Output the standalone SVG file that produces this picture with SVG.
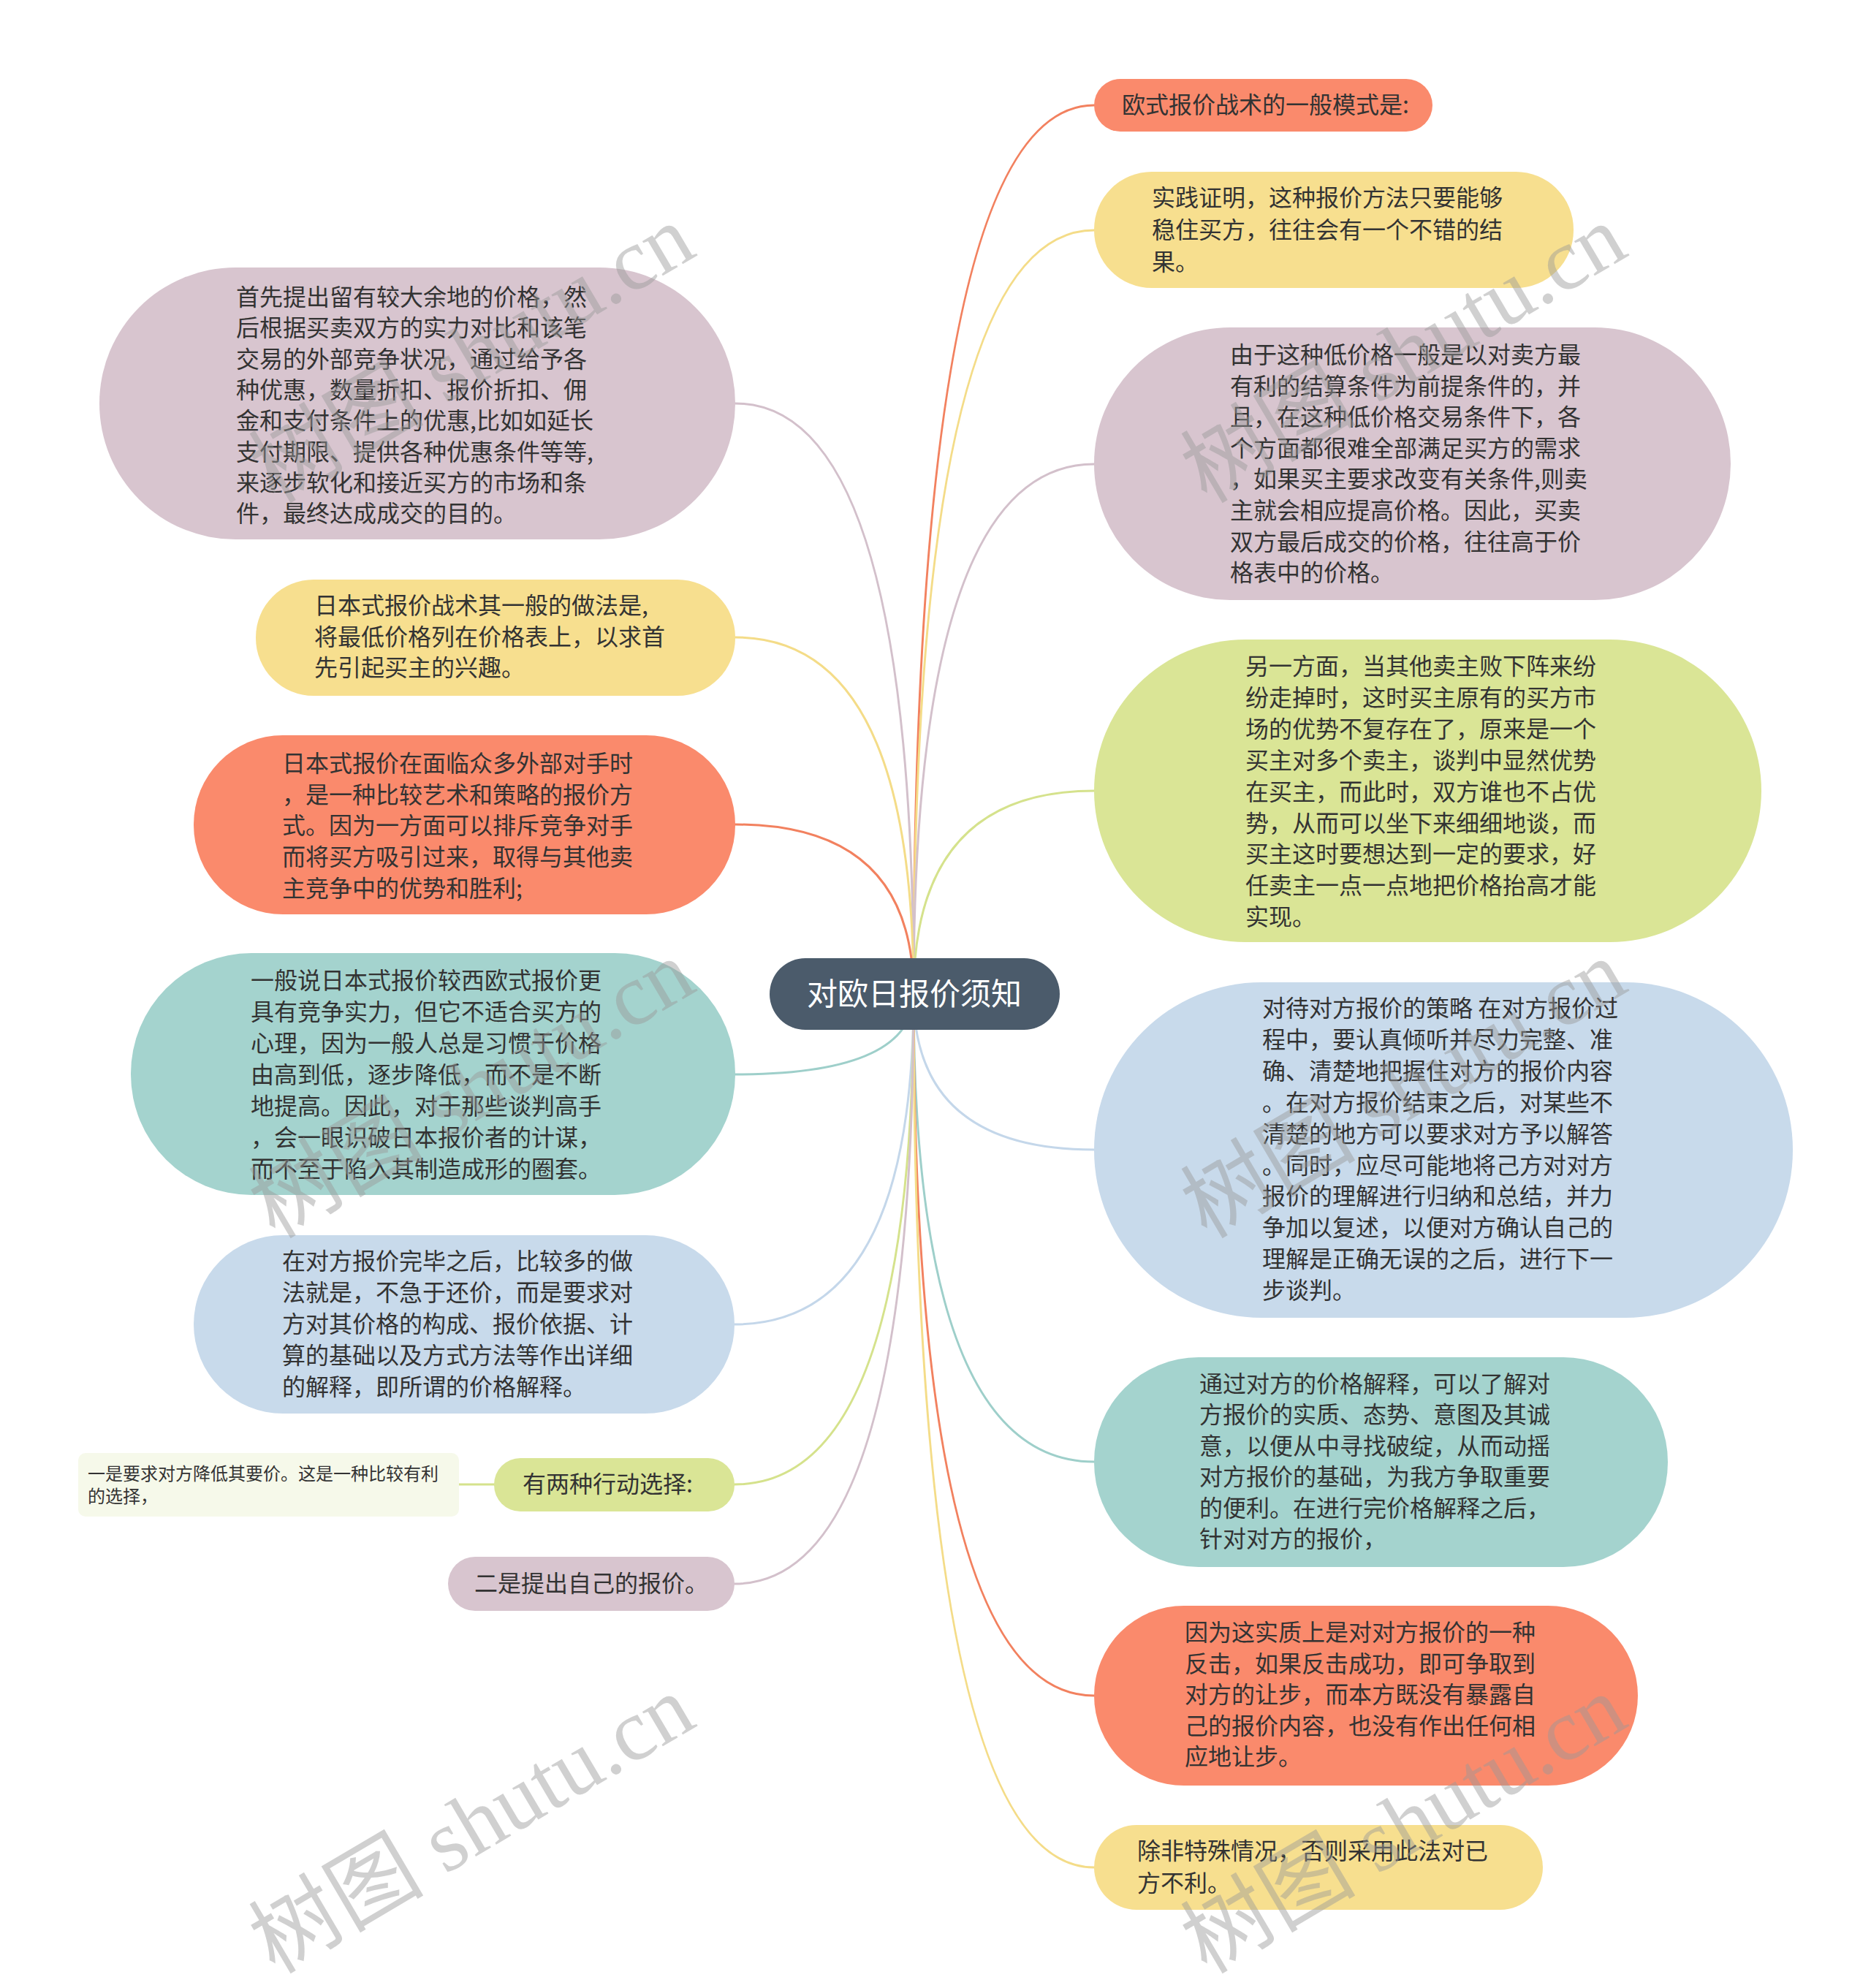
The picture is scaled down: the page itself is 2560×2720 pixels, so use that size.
<svg xmlns="http://www.w3.org/2000/svg" width="2560" height="2720" viewBox="0 0 2560 2720">
<style>
.t{font-family:"Noto Sans CJK SC","Liberation Sans",sans-serif;font-size:32px;fill:#333333;}
.ts{font-family:"Noto Sans CJK SC","Liberation Sans",sans-serif;font-size:24px;fill:#333333;}
.tc{font-family:"Noto Sans CJK SC","Liberation Sans",sans-serif;font-size:42px;fill:#ffffff;}
.c{fill:none;stroke-width:3;stroke-linecap:round;}
.coral{fill:#FA8A6C;} .yellow{fill:#F7DF8F;} .mauve{fill:#D8C5CF;} .lime{fill:#DAE596;} .blue{fill:#C8DAEB;} .teal{fill:#A4D3CE;} .pale{fill:#F6F9EA;}
.sc{stroke:#F2815F;} .sy{stroke:#F4DC88;} .sm{stroke:#D3C0CB;} .sl{stroke:#D5E28C;} .sb{stroke:#C4D7EA;} .st{stroke:#9ECFCA;}
.wm{font-family:"Liberation Serif","Noto Sans CJK SC",serif;font-size:120px;fill:#999999;opacity:0.45;}
</style>
<rect width="2560" height="2720" fill="#ffffff"/>
<g id="connectors">
<path class="c sc" d="M1250 1360 Q1250 144 1497 144"/>
<path class="c sy" d="M1250 1360 Q1250 315 1497 315"/>
<path class="c sm" d="M1250 1360 Q1250 635 1497 635"/>
<path class="c sl" d="M1250 1360 Q1250 1082 1497 1082"/>
<path class="c sb" d="M1250 1360 Q1250 1573 1497 1573"/>
<path class="c st" d="M1250 1360 Q1250 2000 1497 2000"/>
<path class="c sc" d="M1250 1360 Q1250 2320 1497 2320"/>
<path class="c sy" d="M1250 1360 Q1250 2555 1497 2555"/>
<path class="c sm" d="M1250 1360 Q1250 552 1006 552"/>
<path class="c sy" d="M1250 1360 Q1250 872 1006 872"/>
<path class="c sc" d="M1250 1360 Q1250 1128 1006 1128"/>
<path class="c st" d="M1250 1360 Q1250 1470 1006 1470"/>
<path class="c sb" d="M1250 1360 Q1250 1812 1005 1812"/>
<path class="c sl" d="M1250 1360 Q1250 2031 1005 2031"/>
<path class="c sm" d="M1250 1360 Q1250 2167 1005 2167"/>
<path class="c sl" d="M628 2031 L676 2031"/>
</g>
<g id="center">
<rect x="1053" y="1311" width="397" height="98" rx="49" fill="#4B5B6B"/>
<text class="tc" x="1251" y="1375" text-anchor="middle">对欧日报价须知</text>
</g>
<g id="r1">
<rect class="coral" x="1497" y="108" width="463" height="72" rx="36"/>
<text class="t" x="1535" y="155">欧式报价战术的一般模式是:</text>
</g>
<g id="r2">
<rect class="yellow" x="1497" y="235" width="656" height="159" rx="79"/>
<text class="t" x="1576" y="282"><tspan x="1576">实践证明，这种报价方法只要能够</tspan><tspan x="1576" dy="44">稳住买方，往往会有一个不错的结</tspan><tspan x="1576" dy="44">果。</tspan></text>
</g>
<g id="r3">
<rect class="mauve" x="1497" y="448" width="871" height="373" rx="186"/>
<text class="t" x="1683" y="497"><tspan x="1683">由于这种低价格一般是以对卖方最</tspan><tspan x="1683" dy="42.6">有利的结算条件为前提条件的，并</tspan><tspan x="1683" dy="42.6">且，在这种低价格交易条件下，各</tspan><tspan x="1683" dy="42.6">个方面都很难全部满足买方的需求</tspan><tspan x="1683" dy="42.6">，如果买主要求改变有关条件,则卖</tspan><tspan x="1683" dy="42.6">主就会相应提高价格。因此，买卖</tspan><tspan x="1683" dy="42.6">双方最后成交的价格，往往高于价</tspan><tspan x="1683" dy="42.6">格表中的价格。</tspan></text>
</g>
<g id="r4">
<rect class="lime" x="1497" y="875" width="913" height="414" rx="207"/>
<text class="t" x="1704" y="923"><tspan x="1704">另一方面，当其他卖主败下阵来纷</tspan><tspan x="1704" dy="42.9">纷走掉时，这时买主原有的买方市</tspan><tspan x="1704" dy="42.9">场的优势不复存在了，原来是一个</tspan><tspan x="1704" dy="42.9">买主对多个卖主，谈判中显然优势</tspan><tspan x="1704" dy="42.9">在买主，而此时，双方谁也不占优</tspan><tspan x="1704" dy="42.9">势，从而可以坐下来细细地谈，而</tspan><tspan x="1704" dy="42.9">买主这时要想达到一定的要求，好</tspan><tspan x="1704" dy="42.9">任卖主一点一点地把价格抬高才能</tspan><tspan x="1704" dy="42.9">实现。</tspan></text>
</g>
<g id="r5">
<rect class="blue" x="1497" y="1344" width="956" height="459" rx="229"/>
<text class="t" x="1727" y="1391"><tspan x="1727">对待对方报价的策略 在对方报价过</tspan><tspan x="1727" dy="42.9">程中，要认真倾听并尽力完整、准</tspan><tspan x="1727" dy="42.9">确、清楚地把握住对方的报价内容</tspan><tspan x="1727" dy="42.9">。在对方报价结束之后，对某些不</tspan><tspan x="1727" dy="42.9">清楚的地方可以要求对方予以解答</tspan><tspan x="1727" dy="42.9">。同时，应尽可能地将己方对对方</tspan><tspan x="1727" dy="42.9">报价的理解进行归纳和总结，并力</tspan><tspan x="1727" dy="42.9">争加以复述，以便对方确认自己的</tspan><tspan x="1727" dy="42.9">理解是正确无误的之后，进行下一</tspan><tspan x="1727" dy="42.9">步谈判。</tspan></text>
</g>
<g id="r6">
<rect class="teal" x="1497" y="1857" width="785" height="287" rx="143"/>
<text class="t" x="1641" y="1905"><tspan x="1641">通过对方的价格解释，可以了解对</tspan><tspan x="1641" dy="42.4">方报价的实质、态势、意图及其诚</tspan><tspan x="1641" dy="42.4">意，以便从中寻找破绽，从而动摇</tspan><tspan x="1641" dy="42.4">对方报价的基础，为我方争取重要</tspan><tspan x="1641" dy="42.4">的便利。在进行完价格解释之后，</tspan><tspan x="1641" dy="42.4">针对对方的报价，</tspan></text>
</g>
<g id="r7">
<rect class="coral" x="1497" y="2197" width="744" height="246" rx="123"/>
<text class="t" x="1621" y="2245"><tspan x="1621">因为这实质上是对对方报价的一种</tspan><tspan x="1621" dy="42.5">反击，如果反击成功，即可争取到</tspan><tspan x="1621" dy="42.5">对方的让步，而本方既没有暴露自</tspan><tspan x="1621" dy="42.5">己的报价内容，也没有作出任何相</tspan><tspan x="1621" dy="42.5">应地让步。</tspan></text>
</g>
<g id="r8">
<rect class="yellow" x="1497" y="2497" width="614" height="116" rx="58"/>
<text class="t" x="1556" y="2544"><tspan x="1556">除非特殊情况，否则采用此法对已</tspan><tspan x="1556" dy="44">方不利。</tspan></text>
</g>
<g id="l1">
<rect class="mauve" x="136" y="366" width="870" height="372" rx="186"/>
<text class="t" x="323" y="418"><tspan x="323">首先提出留有较大余地的价格，然</tspan><tspan x="323" dy="42.3">后根据买卖双方的实力对比和该笔</tspan><tspan x="323" dy="42.3">交易的外部竞争状况，通过给予各</tspan><tspan x="323" dy="42.3">种优惠，数量折扣、报价折扣、佣</tspan><tspan x="323" dy="42.3">金和支付条件上的优惠,比如如延长</tspan><tspan x="323" dy="42.3">支付期限、提供各种优惠条件等等,</tspan><tspan x="323" dy="42.3">来逐步软化和接近买方的市场和条</tspan><tspan x="323" dy="42.3">件，最终达成成交的目的。</tspan></text>
</g>
<g id="l2">
<rect class="yellow" x="350" y="793" width="656" height="159" rx="79"/>
<text class="t" x="430" y="840"><tspan x="430">日本式报价战术其一般的做法是,</tspan><tspan x="430" dy="42.5">将最低价格列在价格表上，以求首</tspan><tspan x="430" dy="42.5">先引起买主的兴趣。</tspan></text>
</g>
<g id="l3">
<rect class="coral" x="265" y="1006" width="741" height="245" rx="122"/>
<text class="t" x="386" y="1056"><tspan x="386">日本式报价在面临众多外部对手时</tspan><tspan x="386" dy="42.7">，是一种比较艺术和策略的报价方</tspan><tspan x="386" dy="42.7">式。因为一方面可以排斥竞争对手</tspan><tspan x="386" dy="42.7">而将买方吸引过来，取得与其他卖</tspan><tspan x="386" dy="42.7">主竞争中的优势和胜利;</tspan></text>
</g>
<g id="l4">
<rect class="teal" x="179" y="1304" width="827" height="331" rx="165"/>
<text class="t" x="343" y="1353"><tspan x="343">一般说日本式报价较西欧式报价更</tspan><tspan x="343" dy="43">具有竞争实力，但它不适合买方的</tspan><tspan x="343" dy="43">心理，因为一般人总是习惯于价格</tspan><tspan x="343" dy="43">由高到低，逐步降低，而不是不断</tspan><tspan x="343" dy="43">地提高。因此，对于那些谈判高手</tspan><tspan x="343" dy="43">，会一眼识破日本报价者的计谋，</tspan><tspan x="343" dy="43">而不至于陷入其制造成形的圈套。</tspan></text>
</g>
<g id="l5">
<rect class="blue" x="265" y="1690" width="740" height="244" rx="122"/>
<text class="t" x="386" y="1737"><tspan x="386">在对方报价完毕之后，比较多的做</tspan><tspan x="386" dy="43">法就是，不急于还价，而是要求对</tspan><tspan x="386" dy="43">方对其价格的构成、报价依据、计</tspan><tspan x="386" dy="43">算的基础以及方式方法等作出详细</tspan><tspan x="386" dy="43">的解释，即所谓的价格解释。</tspan></text>
</g>
<g id="l6">
<rect class="lime" x="676" y="1995" width="329" height="73" rx="36"/>
<text class="t" x="715" y="2042">有两种行动选择:</text>
</g>
<g id="l6a">
<rect class="pale" x="107" y="1988" width="521" height="87" rx="10"/>
<text class="ts" x="120" y="2025"><tspan x="120">一是要求对方降低其要价。这是一种比较有利</tspan><tspan x="120" dy="31">的选择，</tspan></text>
</g>
<g id="l7">
<rect class="mauve" x="613" y="2130" width="392" height="74" rx="37"/>
<text class="t" x="649" y="2178">二是提出自己的报价。</text>
</g>
<g id="watermarks">
<text class="wm" transform="translate(376 690) rotate(-30.5)">树图 shutu.cn</text>
<text class="wm" transform="translate(1651 690) rotate(-30.5)">树图 shutu.cn</text>
<text class="wm" transform="translate(376 1696) rotate(-30.5)">树图 shutu.cn</text>
<text class="wm" transform="translate(1651 1696) rotate(-30.5)">树图 shutu.cn</text>
<text class="wm" transform="translate(376 2702) rotate(-30.5)">树图 shutu.cn</text>
<text class="wm" transform="translate(1651 2702) rotate(-30.5)">树图 shutu.cn</text>
</g>
</svg>
